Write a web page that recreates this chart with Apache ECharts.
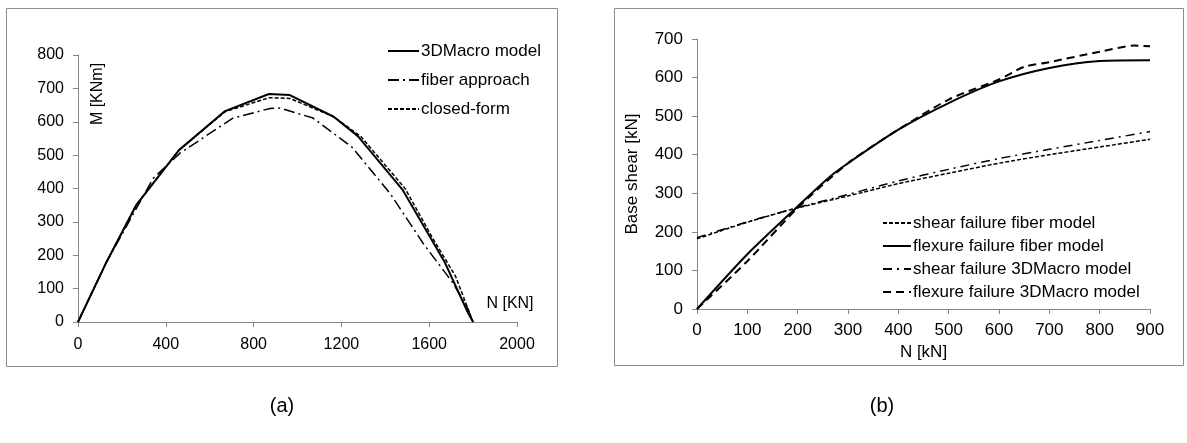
<!DOCTYPE html>
<html>
<head>
<meta charset="utf-8">
<script src="https://cdn.jsdelivr.net/npm/echarts@6/dist/echarts.min.js"></script>
<style>
  html, body { margin: 0; padding: 0; background: #fff; }
  #chart { width: 1187px; height: 443px; }
</style>
</head>
<body>
<div id="chart"></div>
<script>
// (a) M-N interaction domain
const macroN = [0, 130, 265, 460, 670, 870, 965, 1165, 1275, 1480, 1670, 1775, 1800];
const macroM = [0, 180, 350, 515, 632, 683, 680, 615, 557, 395, 180, 30, 0];
const fiberN = [0, 130, 342, 465, 706, 875, 920, 1071, 1248, 1421, 1572, 1708, 1772, 1800];
const fiberM = [0, 180, 430, 506, 611, 640, 641, 611, 524, 386, 236, 117, 45, 0];
const closedN = [0, 130, 265, 460, 670, 870, 965, 1165, 1290, 1490, 1613, 1720, 1800];
const closedM = [0, 180, 350, 515, 630, 672, 670, 615, 555, 400, 254, 137, 0];

// (b) base shear vs axial load
const shearN = [0, 100, 200, 300, 400, 500, 600, 700, 800, 900];
const shearFiber = [182, 225, 262, 293, 325, 352, 378, 400, 420, 440];
const shearMacro = [185, 226, 263, 297, 332, 362, 390, 414, 437, 460];
const flexFiberN = [0, 100, 200, 265, 300, 400, 500, 600, 700, 800, 900];
const flexFiber = [0, 142, 266, 344, 378, 465, 534, 590, 625, 643, 645];
const flexMacroN = [0, 100, 200, 300, 400, 500, 600, 650, 700, 800, 870, 900];
const flexMacro = [0, 124, 262, 378, 465, 543, 595, 628, 640, 667, 683, 681];

const pairs = (xs, ys) => xs.map((x, i) => [x, ys[i]]);

const FONT = "Liberation Sans, Arial, sans-serif";
const axisGrey = "#868686";

const chart = echarts.init(document.getElementById("chart"));

function valueAxis(gridIndex, min, max, interval, size, margin, extra) {
  return Object.assign({
    type: "value",
    gridIndex: gridIndex,
    min: min,
    max: max,
    interval: interval,
    splitLine: { show: false },
    axisLine: { show: true, lineStyle: { color: axisGrey, width: 1 } },
    axisTick: { show: true, inside: false, length: 5, lineStyle: { color: axisGrey } },
    axisLabel: {
      color: "#000", fontFamily: FONT, fontSize: size, margin: margin,
      formatter: v => String(v), // no thousands separator
    },
  }, extra || {});
}

function line(name, data, xi, type, width) {
  return {
    name: name,
    type: "line",
    xAxisIndex: xi,
    yAxisIndex: xi,
    data: data,
    symbol: "none",
    smooth: xi === 1 ? 0.25 : false,
    lineStyle: { color: "#000", width: width, type: type },
    itemStyle: { color: "#000" },
    emphasis: { disabled: true },
    animation: false,
  };
}

const legendBase = {
  orient: "vertical",
  itemHeight: 14,
  itemStyle: { opacity: 0 }, // hide the symbol, keep the line
  textStyle: { color: "#000", fontFamily: FONT, fontSize: 17, lineHeight: 18, padding: [0, 0, 0, -3] },
};

const option = {
  backgroundColor: "#ffffff",
  animation: false,
  grid: [
    { left: 78, top: 55, width: 439, height: 267 },
    { left: 697, top: 39, width: 453, height: 270 },
  ],
  xAxis: [
    valueAxis(0, 0, 2000, 400, 16, 15),
    valueAxis(1, 0, 900, 100, 17, 13, {
      name: "N [kN]",
      nameLocation: "middle",
      nameGap: 34,
      nameTextStyle: { color: "#000", fontFamily: FONT, fontSize: 17 },
    }),
  ],
  yAxis: [
    valueAxis(0, 0, 800, 100, 16, 14),
    valueAxis(1, 0, 700, 100, 17, 14, {
      name: "Base shear [kN]",
      nameLocation: "middle",
      nameRotate: 90,
      nameGap: 56,
      nameTextStyle: { color: "#000", fontFamily: FONT, fontSize: 17 },
    }),
  ],
  legend: [
    Object.assign({}, legendBase, {
      data: ["3DMacro model", "fiber approach", "closed-form"],
      left: 382,
      top: 37,
      itemWidth: 31,
      itemGap: 11,
    }),
    Object.assign({}, legendBase, {
      data: ["shear failure fiber model", "flexure failure fiber model",
             "shear failure 3DMacro model", "flexure failure 3DMacro model"],
      left: 877,
      top: 209,
      itemWidth: 28,
      itemGap: 5,
    }),
  ],
  graphic: [
    { type: "rect", shape: { x: 6.5, y: 8.5, width: 551, height: 358 },
      style: { fill: "none", stroke: "#8c8c8c", lineWidth: 1 }, silent: true },
    { type: "rect", shape: { x: 614.5, y: 8.5, width: 569, height: 357 },
      style: { fill: "none", stroke: "#8c8c8c", lineWidth: 1 }, silent: true },
    { type: "text", x: 98, y: 94, rotation: Math.PI / 2,
      style: { text: "M [KNm]", fill: "#000", font: "16px " + FONT,
               align: "center", verticalAlign: "middle", textAlign: "center", textVerticalAlign: "middle" } },
    { type: "text", x: 510, y: 304,
      style: { text: "N [KN]", fill: "#000", font: "16px " + FONT,
               align: "center", verticalAlign: "middle", textAlign: "center", textVerticalAlign: "middle" } },
    { type: "text", x: 282, y: 406,
      style: { text: "(a)", fill: "#000", font: "20px " + FONT,
               align: "center", verticalAlign: "middle", textAlign: "center", textVerticalAlign: "middle" } },
    { type: "text", x: 882, y: 406,
      style: { text: "(b)", fill: "#000", font: "20px " + FONT,
               align: "center", verticalAlign: "middle", textAlign: "center", textVerticalAlign: "middle" } },
  ],
  series: [
    line("3DMacro model", pairs(macroN, macroM), 0, "solid", 2),
    line("fiber approach", pairs(fiberN, fiberM), 0, [11, 4, 2, 4], 1.5),
    line("closed-form", pairs(closedN, closedM), 0, [4, 2], 1.5),
    line("shear failure fiber model", pairs(shearN, shearFiber), 1, [4, 2], 1.5),
    line("flexure failure fiber model", pairs(flexFiberN, flexFiber), 1, "solid", 2),
    line("shear failure 3DMacro model", pairs(shearN, shearMacro), 1, [9, 5, 2, 5], 1.5),
    line("flexure failure 3DMacro model", pairs(flexMacroN, flexMacro), 1, [8, 5], 2),
  ],
};

chart.setOption(option);
</script>
</body>
</html>
